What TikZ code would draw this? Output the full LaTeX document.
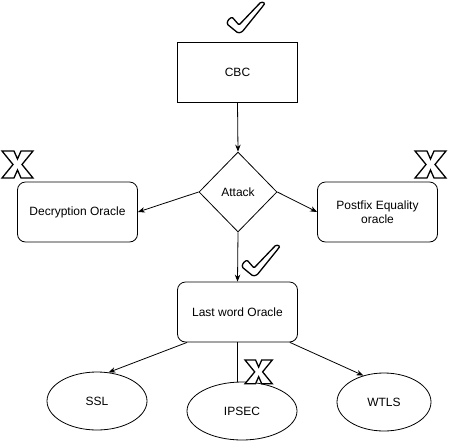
\documentclass[tikz,border=0pt]{standalone}
\usepackage{fontspec}
\setmainfont{Liberation Sans}
\usetikzlibrary{shapes.geometric,arrows.meta}

% hollow tick and cross marks
\tikzset{
  okmark/.pic={
    \draw[line width=1.3pt, fill=white, rounded corners=1.2pt]
      (1,18) -- (5,15) -- (12,23) -- (34,0) -- (38,1) -- (36,4)
      -- (15,30) -- (11,31) -- (0,22) -- cycle;
  },
  failmark/.pic={
    \draw[line width=1.3pt, fill=white]
      (0,0) -- (12,0) -- (15.5,8) -- (19,0) -- (31,0) -- (20,13.5)
      -- (31,27) -- (19,27) -- (15.5,19) -- (12,27) -- (0,27) -- (11,13.5) -- cycle;
  }
}

\begin{document}
\begin{tikzpicture}[x=1pt, y=-1pt, line width=0.8pt,
    >={Stealth[length=7pt,width=5.5pt]},
    every node/.style={font=\fontsize{12}{14}\selectfont},
    block/.style={draw, minimum width=120pt, minimum height=60pt, align=center},
    roundblock/.style={block, rounded corners=8pt},
    decision/.style={draw, diamond, minimum width=78pt, minimum height=80pt, inner sep=0pt},
    leaf/.style={draw, ellipse, minimum height=58pt}]
    \useasboundingbox (0,0) rectangle (450,445);

    % Top of the tree
    \node[block] (cbc) at (237.5,72) {CBC};
    \node[decision] (attack) at (238,192) {Attack};

    % Oracles
    \node[roundblock] (decrypt) at (77.5,212) {Decryption Oracle};
    \node[roundblock] (postfix) at (377.5,212) {Postfix Equality\\oracle};
    \node[roundblock] (lastword) at (237.5,312) {Last word Oracle};

    % Protocols
    \node[leaf, minimum width=100pt] (ssl) at (97,401) {SSL};
    \node[leaf, minimum width=110pt] (ipsec) at (242,411) {IPSEC};
    \node[leaf, minimum width=94pt] (wtls) at (384,402) {WTLS};

    % Arrows
    \draw[->] (cbc.south) -- (attack.north);
    \draw[->] (attack.west) -- (decrypt.east);
    \draw[->] (attack.east) -- (postfix.west);
    \draw[->] (attack.south) -- (lastword.north);
    \draw[->] ([xshift=10pt]lastword.south west) -- (ssl.68);
    \draw (lastword.south) -- (lastword.south |- ipsec.north);
    \draw[->] ([xshift=-8pt]lastword.south east) -- (wtls.128);

    % Marks
    \pic at (227,2) {okmark};
    \pic at (242,245) {okmark};
    \pic at (2,151) {failmark};
    \pic at (415,151) {failmark};
    \pic[scale=0.88] at (245,360) {failmark};
\end{tikzpicture}
\end{document}
